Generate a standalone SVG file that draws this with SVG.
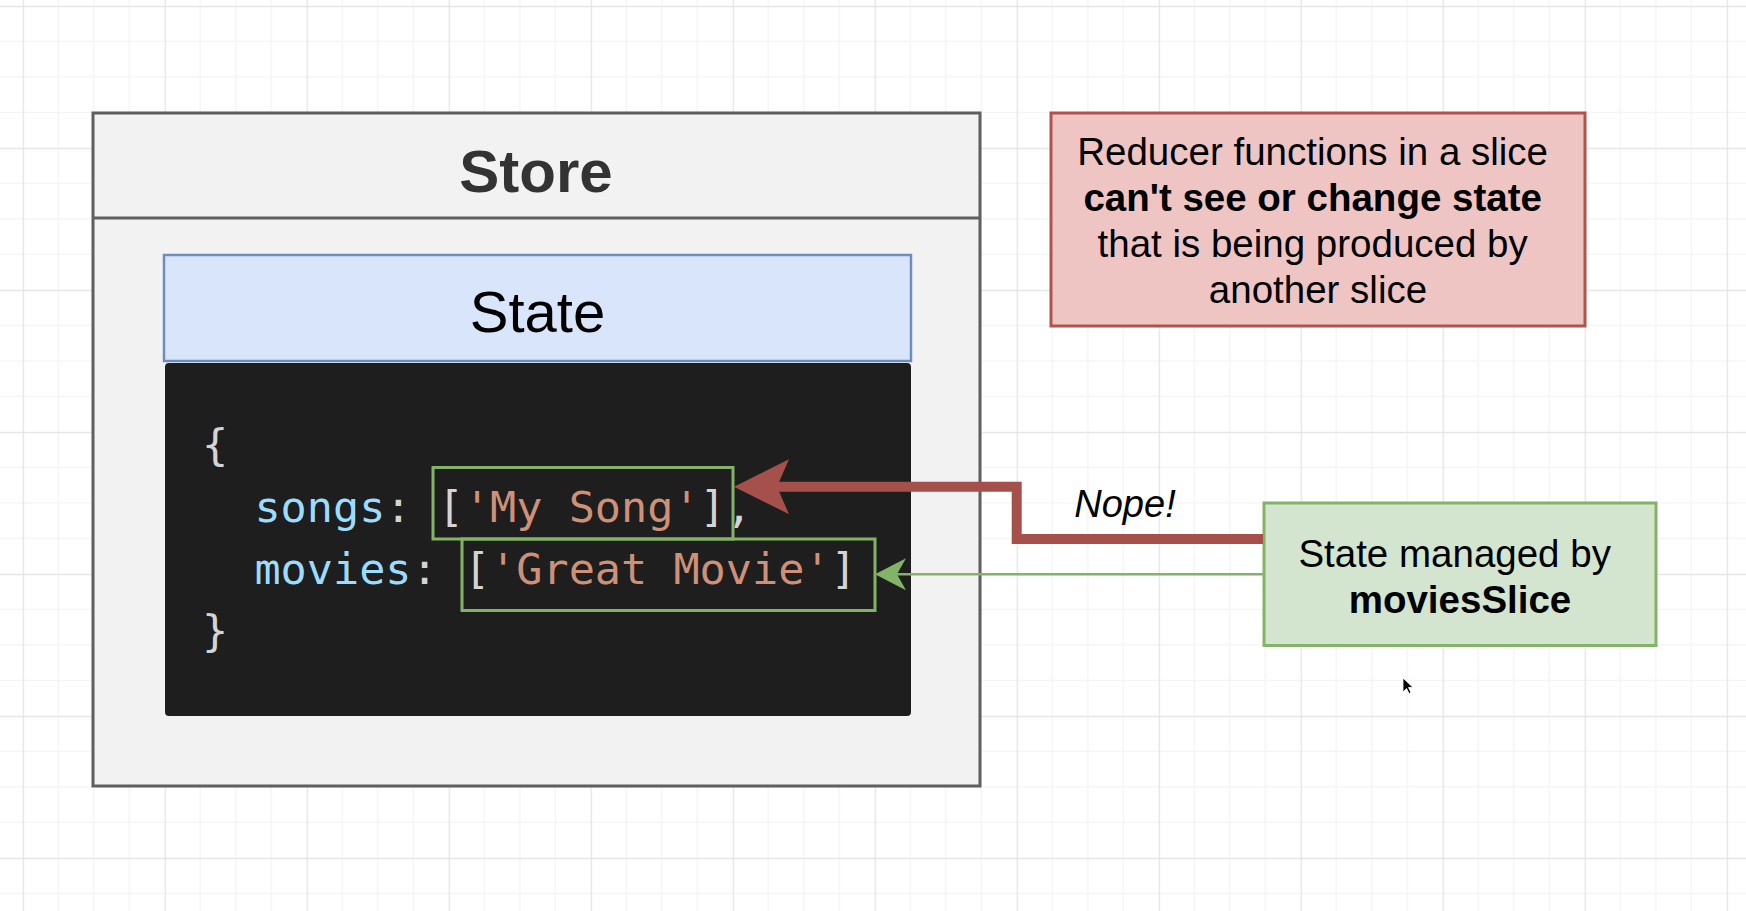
<svg xmlns="http://www.w3.org/2000/svg" width="1746" height="911" viewBox="0 0 1746 911">
  <style>
    .sans { font-family: "Liberation Sans", Arial, Helvetica, sans-serif; }
    .mono { font-family: "DejaVu Sans Mono", "Liberation Mono", monospace; font-size: 43.5px; }
    .key { fill: #9cdcfe; }
    .str { fill: #ce9178; }
    .pun { fill: #d4d4d4; }
    .hl { fill: none; stroke: #82b366; stroke-width: 3; }
  </style>
  <defs>
    <pattern id="grid" x="22.7" y="5.8" width="142" height="142" patternUnits="userSpaceOnUse">
      <path d="M35.5,0 V142 M71,0 V142 M106.5,0 V142 M0,35.5 H142 M0,71 H142 M0,106.5 H142" stroke="#f2f2f2" stroke-width="1.2" fill="none"/>
      <path d="M0.5,0 V142 M0,0.5 H142" stroke="#e2e2e2" stroke-width="1.4" fill="none"/>
    </pattern>
    <marker id="redHead" viewBox="0 0 55 55" markerWidth="55" markerHeight="55" markerUnits="userSpaceOnUse" refX="12" refY="27.5" orient="auto">
      <path d="M55,27.5 L0,0 L12,27.5 L0,55 Z" fill="#a5504a"/>
    </marker>
    <marker id="greenHead" viewBox="0 0 32 32" markerWidth="32" markerHeight="32" markerUnits="userSpaceOnUse" refX="9" refY="16" orient="auto">
      <path d="M31,16 L0,0 L9,16 L0,32 Z" fill="#82b366"/>
    </marker>
  </defs>

  <rect x="0" y="0" width="1746" height="911" fill="#ffffff"/>
  <rect x="0" y="0" width="1746" height="911" fill="url(#grid)"/>

  <g id="store">
    <rect x="93" y="113" width="887" height="673" fill="#f2f2f2" stroke="#5f5f5f" stroke-width="3"/>
    <line x1="93" y1="218" x2="980" y2="218" stroke="#5f5f5f" stroke-width="3"/>
    <text class="sans" x="536" y="192" font-size="60" font-weight="bold" fill="#333333" text-anchor="middle">Store</text>
  </g>

  <g id="state">
    <rect x="164" y="255" width="747" height="106" fill="#d9e5fa" stroke="#6c8ebf" stroke-width="2.5"/>
    <text class="sans" x="537.5" y="332" font-size="58" fill="#000000" text-anchor="middle">State</text>
  </g>

  <g id="code">
    <rect x="165" y="363" width="746" height="353" rx="4" fill="#1e1e1e"/>
    <text class="mono" y="459.5"><tspan class="pun" x="202">{</tspan></text>
    <text class="mono" y="521.8"><tspan class="key" x="254.4">songs</tspan><tspan class="pun" x="385.3">:</tspan><tspan class="pun" x="437.7">[</tspan><tspan class="str" x="463.9">'My Song'</tspan><tspan class="pun" x="699.6">],</tspan></text>
    <text class="mono" y="584.1"><tspan class="key" x="254.4">movies</tspan><tspan class="pun" x="411.5">:</tspan><tspan class="pun" x="463.9">[</tspan><tspan class="str" x="490.1">'Great Movie'</tspan><tspan class="pun" x="830.6">]</tspan></text>
    <text class="mono" y="646.4"><tspan class="pun" x="202">}</tspan></text>
  </g>

  <g id="songs-highlight">
    <rect class="hl" x="433" y="467.5" width="300" height="71.5"/>
  </g>
  <g id="movies-highlight">
    <rect class="hl" x="462" y="539" width="413" height="71.5"/>
  </g>

  <g id="note">
    <rect x="1051" y="113" width="534" height="213" fill="#efc5c4" stroke="#b0524d" stroke-width="3"/>
    <text class="sans" font-size="38.5" fill="#000000" text-anchor="middle">
      <tspan x="1318" y="165">Reducer functions in a slice</tspan>
      <tspan x="1318" y="211" font-weight="bold">can't see or change state</tspan>
      <tspan x="1318" y="257">that is being produced by</tspan>
      <tspan x="1318" y="303">another slice</tspan>
    </text>
  </g>

  <g id="movies-slice">
    <rect x="1264" y="503" width="392" height="142.5" fill="#d4e5cf" stroke="#82b366" stroke-width="3"/>
    <text class="sans" font-size="38.5" fill="#000000" text-anchor="middle">
      <tspan x="1460" y="566.7">State managed by</tspan>
      <tspan x="1460" y="613.3" font-weight="bold">moviesSlice</tspan>
    </text>
  </g>

  <g id="connectors">
    <path d="M1263,539 H1016.7 V486.7 H777" fill="none" stroke="#a5504a" stroke-width="10" marker-end="url(#redHead)"/>
    <text class="sans" x="1125" y="516.7" font-size="38" font-style="italic" fill="#000000" text-anchor="middle">Nope!</text>
    <path d="M1263,574.3 H897" fill="none" stroke="#82b366" stroke-width="2.5" marker-end="url(#greenHead)"/>
  </g>

  <path d="M1403,678 L1403,692 L1406.5,688.5 L1409,693.5 L1411,692.5 L1408.5,687.5 L1413,687.5 Z" fill="#000000" stroke="#ffffff" stroke-width="0.8"/>
</svg>
